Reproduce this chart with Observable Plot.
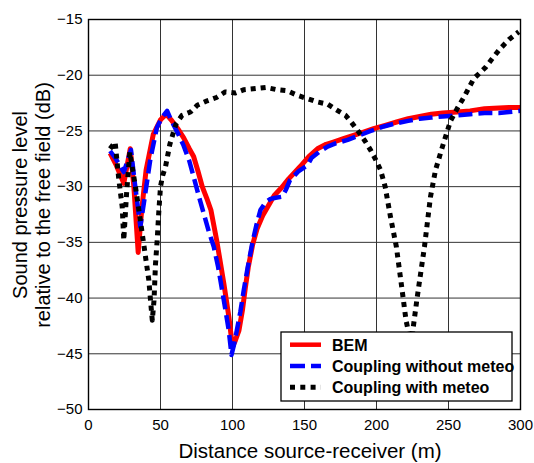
<!DOCTYPE html>
<html>
<head>
<meta charset="utf-8">
<script src="https://cdn.jsdelivr.net/npm/d3@7"></script>
<script src="https://cdn.jsdelivr.net/npm/@observablehq/plot@0.6"></script>
<style>
  html, body { margin: 0; padding: 0; background: #fff; }
  #chart svg { display: block; }
</style>
</head>
<body>
<div id="chart"></div>
<script>
// ---- Data ----
const xTicks = [0, 50, 100, 150, 200, 250, 300];
const yTicks = [-50, -45, -40, -35, -30, -25, -20, -15];

const seriesNames = ["BEM", "Coupling without meteo", "Coupling with meteo"];

const bemDist  = [15, 19, 24.5, 29, 31.5, 34.5, 37, 40, 45, 50, 54, 58, 62, 66, 70, 73, 76, 79, 82, 85, 89, 94, 97.5, 100, 102, 104.5, 107, 109, 111, 114, 117, 121, 125, 129, 134, 139, 147, 153, 159, 165, 170, 177, 184, 191, 198, 206, 214, 222, 230, 238, 246, 256, 265, 275, 285, 292, 300];
const bemLevel = [-27, -28, -29.7, -26.6, -30, -35.9, -32, -28.5, -25.3, -24, -23.5, -24.1, -24.8, -25.6, -26.6, -27.3, -28.6, -30, -31, -32.1, -34.8, -38.7, -41.7, -44.4, -43.8, -42.9, -41, -39, -37.2, -35.2, -33.8, -32.6, -31.7, -30.8, -30.1, -29.3, -28.2, -27.3, -26.6, -26.2, -26, -25.7, -25.4, -25.1, -24.8, -24.5, -24.2, -23.9, -23.7, -23.5, -23.4, -23.3, -23.2, -23.0, -22.95, -22.9, -22.9];

const noMeteoDist  = [15, 19, 24.5, 29.5, 32, 36, 39, 43, 47.5, 51, 54.6, 58, 62, 66, 70, 73, 76.5, 80, 83.5, 87, 90, 92.8, 95, 97.4, 99.3, 101, 103, 105.5, 107.8, 110.5, 113.7, 116.5, 119.4, 123, 126.4, 130, 134.5, 137, 140, 146, 152, 155, 160, 166, 172, 180, 188, 196, 205, 214, 222, 230, 238, 246, 256, 265, 275, 285, 292, 300];
const noMeteoLevel = [-26.8, -27.5, -28.7, -26.7, -29.5, -33.6, -31, -27.5, -24.7, -23.8, -23.2, -24.2, -25.2, -26.3, -27.7, -29.1, -30.8, -32.4, -34, -35.4, -37.2, -39.3, -41, -42.9, -45.1, -44.2, -42.9, -41.2, -39.3, -37.3, -35.1, -33.5, -32.1, -31.4, -31.1, -31.0, -30.9, -30.3, -29.4, -28.6, -28.1, -27.4, -26.9, -26.4, -26.1, -25.8, -25.4, -25.0, -24.6, -24.3, -24.1, -23.9, -23.8, -23.7, -23.6, -23.5, -23.4, -23.4, -23.3, -23.2];

const meteoDist  = [15, 18.5, 21, 23.4, 24.5, 26.5, 28.7, 30.3, 32.6, 35, 37.3, 39.6, 41.9, 43.2, 44.3, 45.5, 46.5, 47.7, 48.8, 50, 51.5, 53.5, 55, 56.5, 58.8, 61, 65, 70.8, 75.5, 82.4, 88.9, 95, 102, 108, 116, 123, 131, 138, 145, 152, 159, 166, 172, 178.5, 183, 187.7, 192, 195.8, 199.5, 202.8, 206, 209.7, 213.8, 217.5, 220.5, 224, 228.2, 233.3, 237.5, 241, 245.6, 251.4, 256, 260.6, 267.6, 275.7, 281, 286, 292, 298.8];
const meteoLevel = [-26.6, -26.0, -29.3, -31.8, -34.8, -30.5, -26.9, -28.2, -30.0, -32.1, -34.2, -36.3, -38.4, -40.4, -42.0, -40.2, -37.0, -34.8, -32.3, -30.0, -29.0, -28.2, -27.2, -26.2, -25.2, -24.3, -23.6, -23.3, -22.7, -22.3, -22.0, -21.5, -21.6, -21.3, -21.2, -21.1, -21.3, -21.4, -21.8, -22.1, -22.4, -22.6, -23.1, -23.6, -24.3, -25.1, -25.9, -26.7, -27.6, -28.5, -30.0, -32.7, -35.4, -39.0, -42.0, -44.1, -40.0, -35.4, -30.9, -28.5, -26.5, -24.1, -23.0, -22.0, -20.3, -19.3, -18.4, -17.6, -16.8, -16.1];

const colors = ["#ff0000", "#0000ff", "#000000"];
const dashes = [null, "14,6", "5,5"];

// ---- Build tables ----
const toRows = (xs, ys) => xs.map((x, i) => ({x, y: ys[i]}));
const tables = [toRows(bemDist, bemLevel), toRows(noMeteoDist, noMeteoLevel), toRows(meteoDist, meteoLevel)];

const W = 534, H = 463;
const FONT = "'Liberation Sans', Arial, Helvetica, sans-serif";

const plot = Plot.plot({
  width: W,
  height: H,
  marginLeft: 88,
  marginRight: 14,
  marginTop: 19,
  marginBottom: 54,
  style: {fontFamily: FONT, fontSize: "15px", background: "#fff", color: "#000"},
  x: {domain: [0, 300], label: null},
  y: {domain: [-50, -15], label: null},
  marks: [
    Plot.gridX(xTicks.slice(1, -1), {stroke: "#333", strokeOpacity: 1, strokeWidth: 1}),
    Plot.gridY(yTicks.slice(1, -1), {stroke: "#333", strokeOpacity: 1, strokeWidth: 1}),
    Plot.axisX(xTicks, {tickSize: 0, tickPadding: 10, fontSize: 15, label: null}),
    Plot.axisY(yTicks, {tickSize: 0, tickPadding: 6, fontSize: 15, label: null}),
    ...tables.map((rows, i) => Plot.line(rows, {
      x: "x", y: "y",
      stroke: colors[i],
      strokeWidth: i === 0 ? 5 : i === 2 ? 5 : 4.5,
      strokeDasharray: dashes[i],
      strokeLinecap: "butt",
      strokeLinejoin: "round"
    })),
    Plot.frame({stroke: "#000", strokeWidth: 1.4})
  ]
});

document.getElementById("chart").appendChild(plot);

// ---- Axis titles and legend ----
const svg = d3.select(plot);

svg.append("text")
  .attr("x", 310).attr("y", 458)
  .attr("text-anchor", "middle")
  .attr("font-family", FONT).attr("font-size", 20.5)
  .attr("fill", "#000")
  .text("Distance source-receiver (m)");

const yl = svg.append("text")
  .attr("transform", "translate(27,205) rotate(-90)")
  .attr("text-anchor", "middle")
  .attr("font-family", FONT).attr("font-size", 20)
  .attr("fill", "#000");
yl.append("tspan").attr("x", 0).attr("y", 0).text("Sound pressure level");
yl.append("tspan").attr("x", 0).attr("y", 23).text("relative to the free field (dB)");

const lg = svg.append("g");
lg.append("rect")
  .attr("x", 281).attr("y", 332).attr("width", 231).attr("height", 69)
  .attr("fill", "#fff").attr("stroke", "#000").attr("stroke-width", 1.3);
const baselines = [350.7, 372, 393.3];
seriesNames.forEach((name, i) => {
  lg.append("line")
    .attr("x1", 290).attr("x2", 321)
    .attr("y1", baselines[i] - 6).attr("y2", baselines[i] - 6)
    .attr("stroke", colors[i])
    .attr("stroke-width", i === 2 ? 5 : 4.5)
    .attr("stroke-dasharray", i === 1 ? "15,6" : i === 2 ? "5,5.3" : null);
  lg.append("text")
    .attr("x", 332).attr("y", baselines[i])
    .attr("text-anchor", "start")
    .attr("font-family", FONT).attr("font-size", 16).attr("font-weight", "bold")
    .attr("fill", "#000")
    .text(name);
});
</script>
</body>
</html>
